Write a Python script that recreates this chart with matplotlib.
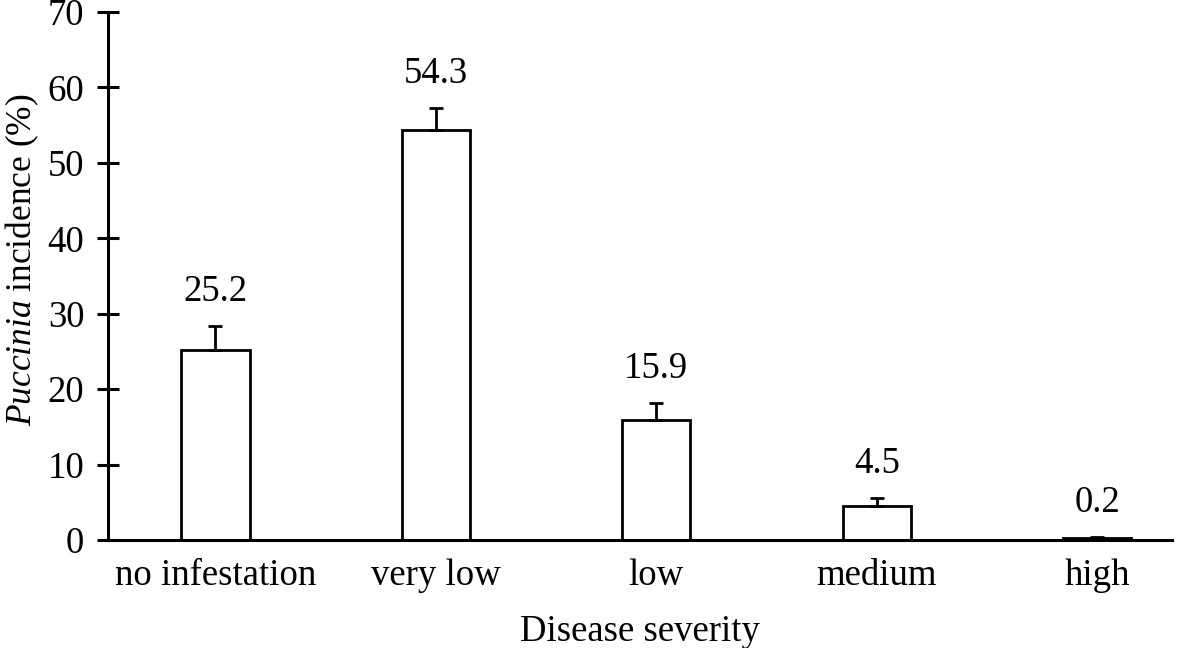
import matplotlib
matplotlib.use("Agg")
import matplotlib.pyplot as plt
import numpy as np

categories = ["no infestation", "very low", "low", "medium", "high"]
values = [25.2, 54.3, 15.9, 4.5, 0.2]
errors = [3.2, 3.0, 2.3, 1.1, 0.25]
value_labels = ["25.2", "54.3", "15.9", "4.5", "0.2"]
yticks = [0, 10, 20, 30, 40, 50, 60, 70]

plt.rcParams['font.family'] = ['Liberation Serif', 'DejaVu Serif']
plt.rcParams['mathtext.fontset'] = 'custom'
plt.rcParams['mathtext.it'] = 'Liberation Serif:italic'
plt.rcParams['mathtext.rm'] = 'Liberation Serif'

FS = 26.5

fig = plt.figure(figsize=(11.81, 6.48), dpi=100)
ax = fig.add_axes([0.0914, 0.1667, 0.9924 - 0.0914, 0.9815 - 0.1667])

x = np.arange(len(categories))
ax.bar(x, values, width=0.31, color='white', edgecolor='black', linewidth=2.0, zorder=2)
ax.errorbar(x, values, yerr=[np.zeros(len(errors)), errors], fmt='none',
            ecolor='black', elinewidth=2.0, capsize=5, capthick=2.0, zorder=3)

for xi, v, e, lab in zip(x, values, errors, value_labels):
    ax.annotate(lab, (xi, v + e), xytext=(0, 12), textcoords='offset points',
                ha='center', va='bottom', fontsize=FS)

ax.set_xlim(-0.488, 4.34)
ax.set_ylim(0, 70)
ax.set_yticks(yticks)
ax.set_yticklabels([str(t) for t in yticks])
ax.set_xticks(x)
ax.set_xticklabels(categories)
ax.tick_params(axis='y', direction='inout', length=16, width=2.2, labelsize=FS, pad=9)
ax.tick_params(axis='x', length=0, labelsize=FS, pad=13)

for s in ['top', 'right']:
    ax.spines[s].set_visible(False)
for s in ['left', 'bottom']:
    ax.spines[s].set_linewidth(2.2)

ax.set_xlabel("Disease severity", fontsize=FS, labelpad=16)
ax.set_ylabel(r"$\mathit{Puccinia}$ incidence (%)", fontsize=25.5)
ax.yaxis.set_label_coords(-0.063, 0.53)

fig.savefig("out.png", dpi=100)
